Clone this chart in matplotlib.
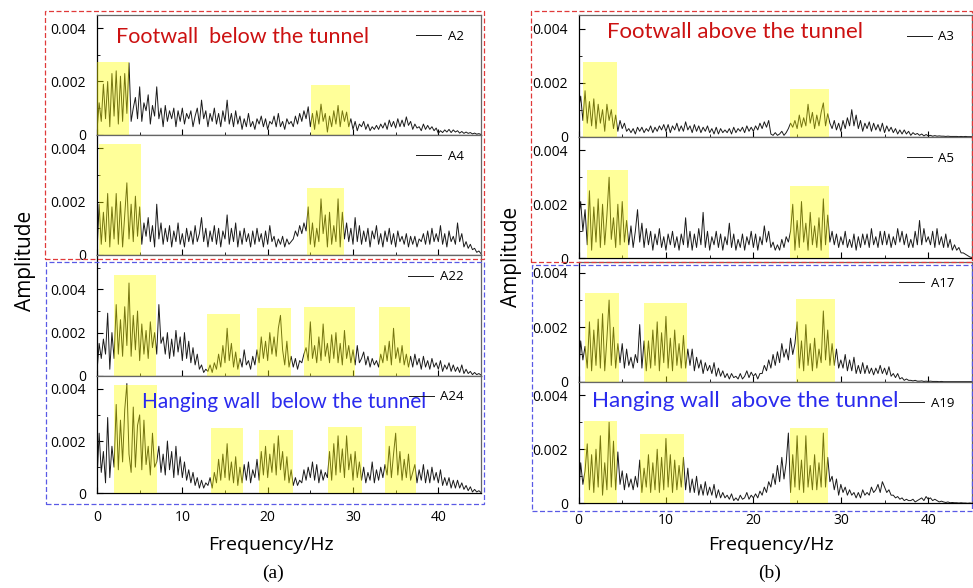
import numpy as np
import matplotlib.pyplot as plt
from matplotlib.patches import Rectangle
from matplotlib.ticker import FixedLocator, MultipleLocator

plt.rcParams['font.family'] = ['Open Sans', 'DejaVu Sans']

# amplitude spectra, values in 1e-3, sampled every 0.25 Hz from 0 to 45 Hz
a2 = [0.15, 1.2, 0.5, 1.9, 0.6, 2.0, 0.3, 2.3, 0.7, 2.4, 0.4, 2.2, 0.5, 2.3, 0.8, 2.7, 0.5, 1.0, 1.4, 0.6,
      1.8, 0.5, 1.2, 0.9, 1.5, 0.4, 1.1, 0.7, 1.8, 0.6, 1.0, 0.3, 1.1, 0.5, 0.9, 0.6, 1.0, 0.3, 0.9, 0.5,
      1.0, 0.4, 0.8, 0.6, 0.9, 0.3, 0.7, 1.0, 0.4, 1.3, 0.6, 0.9, 0.3, 0.8, 0.5, 1.0, 0.4, 0.8, 0.3, 0.9,
      0.5, 1.3, 0.4, 0.8, 0.3, 0.9, 0.4, 0.7, 0.2, 0.6, 0.3, 0.8, 0.3, 0.5, 0.2, 0.6, 0.4, 0.7, 0.3, 0.6,
      0.2, 0.5, 0.4, 0.7, 0.3, 0.8, 0.3, 0.5, 0.2, 0.6, 0.4, 0.5, 0.3, 0.7, 0.4, 0.8, 0.5, 0.9, 0.6, 1.05,
      0.3, 0.8, 0.2, 0.9, 0.4, 1.15, 0.5, 0.8, 0.1, 0.7, 0.3, 0.9, 0.4, 1.1, 0.3, 0.9, 0.5, 0.85, 0.3, 0.6,
      0.2, 0.5, 0.15, 0.4, 0.3, 0.5, 0.2, 0.4, 0.15, 0.3, 0.2, 0.35, 0.2, 0.4, 0.25, 0.45, 0.2, 0.55, 0.3, 0.5,
      0.25, 0.6, 0.3, 0.55, 0.3, 0.67, 0.35, 0.5, 0.2, 0.4, 0.25, 0.3, 0.15, 0.4, 0.2, 0.35, 0.2, 0.3, 0.15, 0.25,
      0.05, 0.15, 0.08, 0.18, 0.1, 0.2, 0.08, 0.18, 0.1, 0.15, 0.06, 0.12, 0.05, 0.1, 0.05, 0.08, 0.03, 0.06, 0.02, 0.04,
      0.01]

a4 = [0.1, 1.9, 0.4, 1.6, 0.5, 2.3, 0.3, 1.8, 0.6, 2.3, 0.4, 2.0, 0.3, 1.5, 2.7, 0.6, 1.9, 0.5, 2.2, 0.7,
      1.8, 0.4, 1.2, 0.7, 1.4, 0.5, 1.1, 0.3, 1.9, 0.6, 1.2, 0.4, 1.0, 0.5, 1.1, 0.3, 0.9, 0.5, 1.2, 0.4,
      0.8, 0.3, 1.0, 0.5, 0.9, 0.4, 1.1, 0.5, 0.8, 1.4, 0.5, 1.0, 0.3, 0.9, 0.5, 1.1, 0.4, 1.0, 0.3, 0.9,
      0.6, 1.5, 0.4, 1.0, 0.5, 1.2, 0.3, 0.9, 0.4, 1.0, 0.5, 0.8, 0.3, 0.9, 0.4, 1.0, 0.5, 0.8, 0.3, 0.9,
      0.4, 1.1, 0.5, 0.7, 0.3, 0.6, 0.4, 0.7, 0.3, 0.6, 0.4, 0.5, 0.6, 0.9, 0.7, 1.1, 0.8, 1.2, 0.9, 1.8,
      0.4, 1.2, 0.3, 1.0, 0.5, 2.1, 0.8, 1.5, 0.3, 1.6, 0.4, 1.1, 0.5, 2.1, 0.3, 1.6, 0.6, 1.2, 0.5, 1.0,
      0.4, 1.4, 0.5, 1.1, 0.4, 0.9, 0.5, 1.0, 0.3, 0.9, 0.6, 1.1, 0.4, 0.8, 0.3, 0.9, 0.5, 1.0, 0.4, 0.8,
      0.3, 0.9, 0.5, 0.7, 0.4, 0.8, 0.3, 0.7, 0.4, 0.7, 0.3, 0.6, 0.5, 0.8, 0.4, 0.9, 0.4, 1.0, 0.5, 0.8,
      0.5, 1.1, 0.4, 0.8, 0.3, 0.9, 0.5, 0.7, 0.4, 1.2, 0.5, 0.8, 0.3, 0.5, 0.25, 0.4, 0.2, 0.25, 0.1, 0.15,
      0.05]

a22 = [0.2, 1.5, 0.8, 1.7, 1.0, 2.9, 0.3, 2.0, 0.8, 3.3, 1.0, 2.6, 0.9, 3.2, 1.4, 4.3, 0.9, 2.8, 1.2, 3.0,
       0.7, 2.4, 1.0, 2.1, 0.8, 2.5, 1.3, 2.0, 1.0, 3.3, 1.5, 1.8, 1.0, 2.0, 0.8, 1.7, 0.9, 2.1, 1.1, 1.8,
       0.7, 2.0, 0.8, 1.6, 0.6, 1.3, 0.5, 1.0, 0.3, 0.5, 0.15, 0.3, 0.2, 0.5, 0.15, 0.6, 0.3, 1.0, 0.4, 1.4,
       0.6, 2.2, 0.7, 1.5, 0.4, 1.1, 0.3, 0.8, 0.4, 1.2, 0.5, 0.7, 0.3, 0.9, 0.5, 1.2, 0.6, 1.8, 0.8, 1.6,
       0.7, 2.0, 1.0, 1.8, 0.9, 2.2, 2.8, 1.2, 0.5, 1.6, 0.4, 0.9, 0.4, 0.8, 0.3, 0.7, 0.6, 1.0, 1.3, 0.7,
       2.5, 0.8, 1.4, 0.6, 1.8, 0.7, 2.4, 0.9, 1.5, 0.6, 1.9, 0.8, 2.0, 0.6, 1.5, 0.5, 2.1, 0.8, 1.4, 0.6,
       1.2, 0.5, 1.4, 0.6, 0.8, 1.1, 0.5, 0.9, 0.4, 0.8, 0.5, 0.7, 0.4, 1.0, 0.6, 1.4, 0.7, 1.6, 0.5, 2.2,
       0.8, 1.3, 0.6, 1.4, 0.5, 1.0, 0.4, 0.9, 0.4, 1.0, 0.5, 0.8, 0.3, 0.9, 0.4, 0.7, 0.3, 0.8, 0.4, 0.6,
       0.3, 0.7, 0.2, 0.5, 0.3, 0.6, 0.2, 0.5, 0.2, 0.4, 0.15, 0.5, 0.1, 0.3, 0.1, 0.2, 0.05, 0.15, 0.05, 0.1,
       0.03]

a24 = [0.5, 2.3, 0.8, 1.6, 0.4, 2.9, 0.6, 1.8, 1.0, 3.4, 0.9, 2.8, 1.2, 3.2, 4.2, 1.5, 0.8, 3.3, 1.0, 2.6,
       3.0, 0.9, 2.8, 1.1, 1.8, 0.7, 2.3, 1.0, 1.2, 1.8, 0.8, 1.5, 0.7, 2.0, 0.9, 1.6, 0.6, 1.8, 0.7, 1.4,
       0.6, 1.2, 0.5, 0.9, 0.4, 0.8, 0.3, 0.6, 0.2, 0.5, 0.2, 0.4, 0.3, 0.6, 0.2, 0.8, 0.4, 1.3, 0.5, 1.5,
       0.6, 1.9, 0.5, 1.2, 0.4, 1.4, 0.3, 1.0, 0.4, 1.1, 0.5, 1.2, 0.4, 0.9, 0.6, 1.3, 0.5, 1.6, 0.7, 1.8,
       0.6, 1.5, 0.8, 1.9, 0.7, 2.2, 0.9, 1.6, 0.5, 1.4, 0.4, 0.9, 0.3, 0.6, 0.3, 0.5, 0.4, 0.9, 0.5, 1.0,
       0.6, 1.2, 0.5, 1.1, 0.4, 0.9, 0.5, 0.8, 0.6, 1.6, 0.5, 1.9, 0.7, 2.2, 0.8, 1.7, 0.6, 2.2, 0.9, 1.5,
       0.5, 1.6, 0.6, 1.2, 0.5, 1.0, 0.4, 0.8, 0.5, 1.2, 0.4, 0.9, 0.5, 1.0, 0.6, 1.1, 0.7, 1.8, 0.6, 1.5,
       2.3, 0.7, 1.6, 0.5, 1.3, 0.6, 1.5, 0.5, 0.8, 1.1, 0.4, 0.9, 0.5, 1.1, 0.4, 0.9, 0.4, 1.0, 0.5, 0.8,
       0.4, 0.9, 0.3, 0.6, 0.3, 0.6, 0.2, 0.5, 0.2, 0.5, 0.2, 0.4, 0.15, 0.3, 0.1, 0.25, 0.05, 0.15, 0.05, 0.1,
       0.03]

a3 = [1.0, 1.5, 0.6, 1.7, 0.5, 1.3, 0.4, 1.4, 0.3, 1.2, 0.5, 1.0, 0.2, 1.2, 0.6, 1.0, 0.3, 0.8, 0.2, 0.6,
      0.3, 0.5, 0.2, 0.3, 0.15, 0.3, 0.1, 0.35, 0.2, 0.35, 0.15, 0.3, 0.2, 0.4, 0.15, 0.35, 0.2, 0.4, 0.25, 0.45,
      0.2, 0.45, 0.15, 0.4, 0.25, 0.5, 0.2, 0.4, 0.2, 0.55, 0.25, 0.4, 0.15, 0.45, 0.2, 0.4, 0.15, 0.35, 0.2, 0.4,
      0.15, 0.3, 0.1, 0.35, 0.1, 0.3, 0.15, 0.25, 0.15, 0.3, 0.1, 0.35, 0.15, 0.3, 0.2, 0.35, 0.15, 0.4, 0.2, 0.35,
      0.2, 0.4, 0.25, 0.5, 0.3, 0.55, 0.35, 0.6, 0.1, 0.05, 0.15, 0.05, 0.1, 0.2, 0.05, 0.15, 0.3, 0.5, 0.35, 0.6,
      0.3, 0.8, 0.35, 0.7, 0.4, 1.2, 0.5, 0.9, 0.3, 0.8, 0.4, 0.9, 1.25, 0.4, 0.85, 0.5, 0.3, 0.6, 0.25, 0.5,
      0.2, 0.6, 0.3, 0.7, 0.4, 1.0, 0.4, 0.8, 0.3, 0.6, 0.2, 0.5, 0.3, 0.55, 0.2, 0.5, 0.25, 0.45, 0.2, 0.5,
      0.15, 0.4, 0.2, 0.35, 0.15, 0.3, 0.1, 0.25, 0.1, 0.25, 0.1, 0.2, 0.05, 0.15, 0.08, 0.12, 0.05, 0.1, 0.03, 0.08,
      0.03, 0.05, 0.02, 0.04, 0.02, 0.03, 0.02, 0.02, 0.01, 0.02, 0.01, 0.01, 0.01, 0.01, 0.0, 0.01, 0.0, 0.01, 0.0, 0.0,
      0.0]

a5 = [1.45, 2.1, 1.0, 1.8, 0.5, 2.5, 0.3, 1.9, 0.6, 2.2, 0.4, 2.0, 0.5, 1.6, 3.0, 0.7, 1.5, 0.4, 2.0, 0.5,
      2.1, 0.6, 1.4, 0.5, 1.2, 0.4, 1.0, 1.8, 0.6, 1.3, 0.4, 1.1, 0.5, 1.0, 0.3, 0.9, 0.5, 1.1, 0.4, 0.8,
      0.3, 0.9, 0.5, 1.0, 0.4, 0.8, 0.3, 0.9, 0.5, 1.5, 0.4, 1.0, 0.3, 0.9, 0.4, 1.1, 0.5, 1.7, 0.4, 1.0,
      0.3, 0.8, 0.5, 1.0, 0.4, 0.9, 0.3, 0.8, 0.5, 1.3, 0.4, 0.9, 0.3, 0.7, 0.4, 0.9, 0.3, 0.8, 0.5, 1.0,
      0.4, 0.9, 0.3, 0.8, 0.5, 1.2, 0.6, 1.0, 0.4, 0.6, 0.3, 0.5, 0.3, 0.7, 0.4, 0.8, 0.6, 1.0, 2.0, 0.3,
      1.4, 0.4, 2.1, 0.6, 1.3, 0.3, 1.7, 0.5, 1.2, 0.4, 1.5, 0.3, 2.2, 0.5, 1.6, 0.6, 1.0, 0.5, 0.9, 0.4,
      0.8, 0.5, 1.0, 0.4, 0.7, 0.4, 0.9, 0.3, 0.8, 0.4, 0.9, 0.5, 0.9, 0.4, 1.1, 0.5, 0.8, 0.4, 1.0, 0.5,
      1.0, 0.5, 0.9, 0.4, 0.8, 0.5, 1.1, 0.6, 1.0, 0.5, 0.9, 0.4, 0.7, 0.4, 1.0, 0.5, 1.4, 0.5, 1.1, 0.6,
      0.8, 0.5, 1.0, 0.4, 1.1, 0.5, 0.8, 0.4, 0.9, 0.4, 0.7, 0.3, 0.5, 0.3, 0.4, 0.2, 0.2, 0.15, 0.1, 0.05,
      0.03]

a17 = [0.2, 1.5, 0.8, 1.3, 0.5, 2.2, 0.4, 1.9, 0.6, 2.3, 0.5, 2.5, 0.4, 1.6, 3.0, 0.6, 2.0, 0.5, 1.4, 0.7,
       1.4, 0.5, 1.2, 0.6, 0.9, 0.5, 1.0, 0.7, 2.1, 0.5, 1.5, 0.4, 1.5, 0.5, 1.9, 0.6, 2.2, 0.4, 1.8, 0.7,
       2.4, 0.5, 1.6, 0.4, 1.9, 0.6, 1.4, 0.5, 1.7, 0.5, 1.2, 0.6, 1.2, 0.4, 0.9, 0.5, 0.8, 0.3, 0.7, 0.4,
       0.6, 0.3, 0.7, 0.2, 0.5, 0.2, 0.4, 0.15, 0.3, 0.1, 0.3, 0.15, 0.2, 0.1, 0.3, 0.1, 0.2, 0.4, 0.15, 0.35,
       0.2, 0.3, 0.1, 0.3, 0.3, 0.6, 0.4, 0.8, 0.5, 1.0, 0.6, 1.1, 0.7, 1.4, 0.9, 1.2, 0.8, 1.6, 1.0, 1.4,
       2.2, 0.5, 1.5, 0.4, 2.1, 0.6, 1.4, 0.4, 1.6, 0.5, 1.2, 0.7, 2.6, 0.8, 1.9, 0.6, 1.4, 0.6, 1.2, 0.5,
       0.8, 0.5, 1.0, 0.4, 0.8, 0.4, 0.9, 0.3, 0.6, 0.3, 0.7, 0.3, 0.6, 0.3, 0.5, 0.25, 0.5, 0.3, 0.6, 0.3,
       0.5, 0.25, 0.55, 0.2, 0.3, 0.15, 0.3, 0.1, 0.15, 0.05, 0.1, 0.05, 0.05, 0.03, 0.05, 0.02, 0.02, 0.03, 0.01, 0.02,
       0.01, 0.02, 0.01, 0.01, 0.01, 0.0, 0.01, 0.0, 0.0, 0.0, 0.0, 0.0, 0.0, 0.0, 0.0, 0.0, 0.0, 0.0, 0.0, 0.0,
       0.0]

a19 = [0.2, 1.5, 0.7, 1.2, 2.2, 0.5, 1.8, 0.4, 2.0, 0.6, 2.5, 0.3, 1.5, 0.5, 3.0, 0.6, 2.3, 0.5, 1.9, 0.7,
       1.2, 0.5, 1.1, 0.6, 0.9, 0.5, 1.0, 0.6, 1.6, 0.4, 1.3, 0.6, 1.8, 0.4, 1.5, 0.5, 2.0, 0.4, 1.7, 0.5,
       2.4, 0.6, 1.8, 0.4, 1.6, 0.5, 1.4, 0.6, 1.7, 0.5, 1.3, 0.4, 0.9, 0.4, 1.0, 0.3, 0.7, 0.3, 0.8, 0.3,
       0.6, 0.3, 0.7, 0.2, 0.5, 0.2, 0.4, 0.2, 0.3, 0.15, 0.35, 0.1, 0.2, 0.1, 0.3, 0.15, 0.2, 0.4, 0.15, 0.3,
       0.2, 0.35, 0.2, 0.45, 0.3, 0.6, 0.4, 0.8, 0.6, 1.1, 0.7, 1.4, 0.8, 1.7, 0.9, 1.5, 2.6, 0.4, 1.8, 0.6,
       2.5, 0.5, 1.6, 0.4, 2.5, 0.6, 1.4, 0.5, 1.8, 0.5, 1.5, 0.6, 2.6, 0.6, 1.7, 0.8, 1.0, 0.5, 0.9, 0.3,
       0.7, 0.4, 0.6, 0.3, 0.5, 0.3, 0.4, 0.2, 0.4, 0.2, 0.5, 0.3, 0.4, 0.3, 0.6, 0.4, 0.5, 0.7, 0.4, 0.8,
       0.6, 0.4, 0.5, 0.3, 0.3, 0.2, 0.25, 0.15, 0.2, 0.1, 0.15, 0.1, 0.1, 0.15, 0.05, 0.1, 0.15, 0.2, 0.1, 0.25,
       0.15, 0.2, 0.1, 0.15, 0.1, 0.05, 0.08, 0.05, 0.03, 0.05, 0.02, 0.03, 0.02, 0.02, 0.01, 0.02, 0.01, 0.01, 0.0, 0.01,
       0.0]

# highlighted bands: (start Hz, end Hz, height in 1e-3)
bands_a2 = [(0.0, 3.8, 2.75), (25.1, 29.6, 1.85)]
bands_a4 = [(0.27, 5.1, 4.15), (24.6, 28.9, 2.5)]
bands_a22 = [(1.96, 6.88, 4.66), (12.9, 16.7, 2.86), (18.7, 22.7, 3.12), (24.3, 30.2, 3.2), (33.1, 36.7, 3.2)]
bands_a24 = [(2.0, 7.0, 4.13), (13.4, 17.1, 2.49), (19.0, 23.0, 2.41), (27.1, 31.0, 2.53), (33.8, 37.4, 2.56)]
bands_a3 = [(0.5, 4.35, 2.78), (24.2, 28.6, 1.77)]
bands_a5 = [(0.95, 5.7, 3.26), (24.2, 28.6, 2.66)]
bands_a17 = [(0.73, 4.6, 3.27), (7.5, 12.4, 2.89), (24.9, 29.3, 3.05)]
bands_a19 = [(0.6, 4.45, 3.05), (7.0, 12.1, 2.57), (24.2, 28.5, 2.78)]

W, H = 973, 588
fig = plt.figure(figsize=(W / 100, H / 100), dpi=100)

def px_axes(x0, x1, y0, y1):
    return fig.add_axes([x0 / W, 1 - y1 / H, (x1 - x0) / W, (y1 - y0) / H])

# (name, data, bands, ymax, top px, bottom px)
left = [("A2", a2, bands_a2, 4.5, 15, 134.7),
        ("A4", a4, bands_a4, 4.5, 134.7, 255),
        ("A22", a22, bands_a22, 5.6, 255, 375.7),
        ("A24", a24, bands_a24, 4.5, 375.7, 493.3)]
right = [("A3", a3, bands_a3, 4.5, 15, 136.7),
         ("A5", a5, bands_a5, 4.5, 136.7, 258.3),
         ("A17", a17, bands_a17, 4.4, 262, 381.7),
         ("A19", a19, bands_a19, 4.5, 381.7, 503.3)]

axes = {}
for col, (x0, x1, ypad, xpad) in [(left, (97, 481, 8, 12)), (right, (578.5, 972, 7.5, 7))]:
    for i, (name, data, bands, ymax, ytop, ybot) in enumerate(col):
        ax = px_axes(x0, x1, ytop, ybot)
        vals = np.array(data) * 1e-3
        f = np.linspace(0, 45, len(vals))
        ax.plot(f, vals, color='#1a1a1a', lw=0.7, label=name)
        for b0, b1, top in bands:
            ax.add_patch(Rectangle((b0, 0), b1 - b0, top * 1e-3, facecolor='#ffff00',
                                   alpha=0.4, edgecolor='none', zorder=3))
        ax.set_xlim(0, 45)
        ax.set_ylim(0, ymax * 1e-3)
        ax.yaxis.set_major_locator(FixedLocator([0, 0.002, 0.004]))
        ax.set_yticklabels(['0', '0.002', '0.004'])
        ax.yaxis.set_minor_locator(MultipleLocator(0.001))
        ax.xaxis.set_major_locator(MultipleLocator(10))
        ax.xaxis.set_minor_locator(MultipleLocator(5))
        ax.tick_params(which='both', direction='in', top=False, right=False)
        ax.tick_params(axis='y', which='major', length=4, pad=ypad, labelsize=10)
        ax.tick_params(axis='y', which='minor', length=2)
        ax.tick_params(axis='x', which='major', length=4, pad=xpad, labelsize=10)
        ax.tick_params(axis='x', which='minor', length=2)
        if i < 3:
            ax.tick_params(axis='x', labelbottom=False)
        for s in ['top', 'right']:
            ax.spines[s].set_color('#666666')
        for sp in ax.spines.values():
            sp.set_linewidth(0.9)
        ax.legend(loc='center right', bbox_to_anchor=(0.955, 0.82), frameon=False, fontsize=9.5,
                  handlelength=1.9, handletextpad=0.5, borderaxespad=0, borderpad=0)
        axes[name] = ax

red = '#cc1111'
blue = '#2a2aee'
axes["A2"].text(0.049, 0.816, "Footwall  below the tunnel", transform=axes["A2"].transAxes,
                color=red, fontsize=15.5, family='Lato', va='center', zorder=5)
axes["A3"].text(0.072, 0.863, "Footwall above the tunnel", transform=axes["A3"].transAxes,
                color=red, fontsize=16, family='Lato', va='center', zorder=5)
axes["A24"].text(0.116, 0.779, "Hanging wall  below the tunnel", transform=axes["A24"].transAxes,
                 color=blue, fontsize=15, family='Lato', va='center', zorder=5)
axes["A19"].text(0.034, 0.844, "Hanging wall  above the tunnel", transform=axes["A19"].transAxes,
                 color=blue, fontsize=16.2, family='Lato', va='center', zorder=5)

# dashed group frames
for (x0, y0, x1, y1, c) in [(44.5, 10.7, 484, 259, '#e03a3a'), (45.5, 262.3, 484, 503.5, '#5a5ae6'),
                            (531, 11, 971.5, 261.7, '#e03a3a'), (531.5, 265, 971.5, 511, '#5a5ae6')]:
    fig.add_artist(Rectangle((x0 / W, 1 - y1 / H), (x1 - x0) / W, (y1 - y0) / H,
                             transform=fig.transFigure, fill=False, ls=(0, (4, 2)), ec=c, lw=0.9))

fig.text(25 / W, 1 - 261 / H, "Amplitude", rotation=90, ha='center', va='center', fontsize=15)
fig.text(512 / W, 1 - 257 / H, "Amplitude", rotation=90, ha='center', va='center', fontsize=15)
fig.text(271 / W, 1 - 545 / H, "Frequency/Hz", ha='center', va='center', fontsize=14)
fig.text(771 / W, 1 - 545 / H, "Frequency/Hz", ha='center', va='center', fontsize=14)
fig.text(273 / W, 1 - 573 / H, "(a)", ha='center', va='center', fontsize=14, family='Liberation Serif')
fig.text(770 / W, 1 - 573 / H, "(b)", ha='center', va='center', fontsize=14, family='Liberation Serif')

fig.savefig("out.png", dpi=100)
